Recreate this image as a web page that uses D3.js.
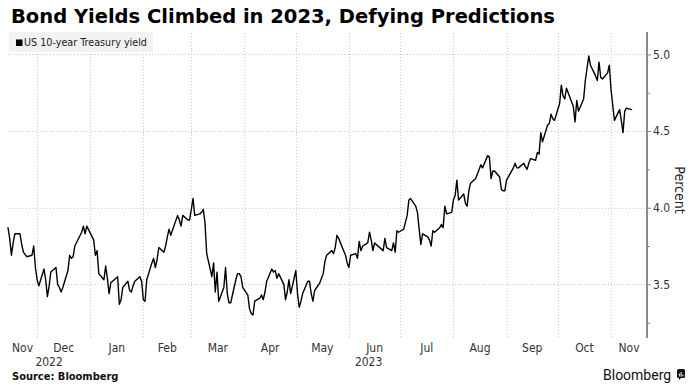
<!DOCTYPE html>
<html><head><meta charset="utf-8">
<script src="https://cdn.jsdelivr.net/npm/d3@7"></script>
<style>
html,body{margin:0;padding:0;background:#fff;}
svg{display:block;}
text{font-family:"DejaVu Sans Condensed","DejaVu Sans",sans-serif;font-stretch:condensed;}
</style></head><body>
<svg id="chart" width="694" height="392"></svg>
<script>
const titleText = "Bond Yields Climbed in 2023, Defying Predictions";
const seriesName = "US 10-year Treasury yield";
const axisTitle = "Percent";
const sourceText = "Source: Bloomberg";
const brandText = "Bloomberg";

const dates = [
 "2022-11-14","2022-11-15","2022-11-16","2022-11-17","2022-11-18","2022-11-21","2022-11-22","2022-11-23","2022-11-25","2022-11-28","2022-11-29","2022-11-30",
 "2022-12-01","2022-12-02","2022-12-05","2022-12-06","2022-12-07","2022-12-08","2022-12-09","2022-12-12","2022-12-13","2022-12-14","2022-12-15","2022-12-16","2022-12-19","2022-12-20","2022-12-21","2022-12-22","2022-12-23","2022-12-27","2022-12-28","2022-12-29","2022-12-30",
 "2023-01-03","2023-01-04","2023-01-05","2023-01-06","2023-01-09","2023-01-10","2023-01-11","2023-01-12","2023-01-13","2023-01-17","2023-01-18","2023-01-19","2023-01-20","2023-01-23","2023-01-24","2023-01-25","2023-01-26","2023-01-27","2023-01-30","2023-01-31",
 "2023-02-01","2023-02-02","2023-02-03","2023-02-06","2023-02-07","2023-02-08","2023-02-09","2023-02-10","2023-02-13","2023-02-14","2023-02-15","2023-02-16","2023-02-17","2023-02-21","2023-02-22","2023-02-23","2023-02-24","2023-02-27","2023-02-28",
 "2023-03-01","2023-03-02","2023-03-03","2023-03-06","2023-03-07","2023-03-08","2023-03-09","2023-03-10","2023-03-13","2023-03-14","2023-03-15","2023-03-16","2023-03-17","2023-03-20","2023-03-21","2023-03-22","2023-03-23","2023-03-24","2023-03-27","2023-03-28","2023-03-29","2023-03-30","2023-03-31",
 "2023-04-03","2023-04-04","2023-04-05","2023-04-06","2023-04-07","2023-04-10","2023-04-11","2023-04-12","2023-04-13","2023-04-14","2023-04-17","2023-04-18","2023-04-19","2023-04-20","2023-04-21","2023-04-24","2023-04-25","2023-04-26","2023-04-27","2023-04-28",
 "2023-05-01","2023-05-02","2023-05-03","2023-05-04","2023-05-05","2023-05-08","2023-05-09","2023-05-10","2023-05-11","2023-05-12","2023-05-15","2023-05-16","2023-05-17","2023-05-18","2023-05-19","2023-05-22","2023-05-23","2023-05-24","2023-05-25","2023-05-26","2023-05-30","2023-05-31",
 "2023-06-01","2023-06-02","2023-06-05","2023-06-06","2023-06-07","2023-06-08","2023-06-09","2023-06-12","2023-06-13","2023-06-14","2023-06-15","2023-06-16","2023-06-20","2023-06-21","2023-06-22","2023-06-23","2023-06-26","2023-06-27","2023-06-28","2023-06-29","2023-06-30",
 "2023-07-03","2023-07-05","2023-07-06","2023-07-07","2023-07-10","2023-07-11","2023-07-12","2023-07-13","2023-07-14","2023-07-17","2023-07-18","2023-07-19","2023-07-20","2023-07-21","2023-07-24","2023-07-25","2023-07-26","2023-07-27","2023-07-28","2023-07-31",
 "2023-08-01","2023-08-02","2023-08-03","2023-08-04","2023-08-07","2023-08-08","2023-08-09","2023-08-10","2023-08-11","2023-08-14","2023-08-15","2023-08-16","2023-08-17","2023-08-18","2023-08-21","2023-08-22","2023-08-23","2023-08-24","2023-08-25","2023-08-28","2023-08-29","2023-08-30","2023-08-31",
 "2023-09-01","2023-09-05","2023-09-06","2023-09-07","2023-09-08","2023-09-11","2023-09-12","2023-09-13","2023-09-14","2023-09-15","2023-09-18","2023-09-19","2023-09-20","2023-09-21","2023-09-22","2023-09-25","2023-09-26","2023-09-27","2023-09-28","2023-09-29",
 "2023-10-02","2023-10-03","2023-10-04","2023-10-05","2023-10-06","2023-10-10","2023-10-11","2023-10-12","2023-10-13","2023-10-16","2023-10-17","2023-10-18","2023-10-19","2023-10-20","2023-10-23","2023-10-24","2023-10-25","2023-10-26","2023-10-27","2023-10-30","2023-10-31",
 "2023-11-01","2023-11-02","2023-11-03","2023-11-06","2023-11-07","2023-11-08","2023-11-09","2023-11-10","2023-11-13"
];
const yields = [
 3.87,3.80,3.69,3.77,3.83,3.83,3.76,3.71,3.68,3.69,3.75,3.61,
 3.53,3.49,3.60,3.53,3.42,3.49,3.58,3.61,3.50,3.48,3.45,3.48,3.59,3.69,3.67,3.68,3.75,3.84,3.88,3.83,3.88,
 3.79,3.69,3.72,3.57,3.53,3.62,3.54,3.44,3.51,3.55,3.37,3.40,3.48,3.52,3.46,3.45,3.49,3.52,3.55,3.52,
 3.40,3.39,3.53,3.64,3.67,3.61,3.66,3.74,3.71,3.75,3.81,3.86,3.82,3.95,3.92,3.88,3.95,3.92,3.92,
 3.99,4.06,3.95,3.96,3.97,3.99,3.90,3.70,3.55,3.64,3.45,3.58,3.39,3.48,3.61,3.44,3.38,3.38,3.53,3.57,3.57,3.55,3.48,
 3.43,3.34,3.31,3.30,3.39,3.41,3.43,3.40,3.45,3.52,3.60,3.58,3.59,3.54,3.57,3.50,3.40,3.45,3.53,3.44,
 3.59,3.44,3.35,3.39,3.44,3.52,3.52,3.44,3.39,3.46,3.51,3.54,3.57,3.65,3.69,3.72,3.70,3.74,3.82,3.80,3.69,3.64,
 3.61,3.69,3.70,3.67,3.78,3.72,3.75,3.77,3.84,3.79,3.72,3.77,3.73,3.72,3.80,3.74,3.72,3.77,3.71,3.85,3.84,
 3.86,3.95,4.05,4.06,4.01,3.97,3.86,3.76,3.83,3.81,3.79,3.75,3.85,3.84,3.87,3.89,3.87,4.01,3.96,3.97,
 4.05,4.08,4.18,4.05,4.09,4.03,4.01,4.11,4.16,4.19,4.22,4.25,4.28,4.26,4.34,4.33,4.19,4.24,4.24,4.20,4.12,4.11,4.11,
 4.18,4.26,4.29,4.26,4.26,4.29,4.27,4.25,4.29,4.32,4.31,4.36,4.35,4.49,4.43,4.54,4.55,4.61,4.58,4.57,
 4.68,4.80,4.73,4.71,4.78,4.66,4.56,4.70,4.63,4.71,4.83,4.91,4.99,4.93,4.86,4.83,4.95,4.85,4.84,4.88,4.93,
 4.77,4.67,4.57,4.64,4.57,4.49,4.63,4.65,4.64
];
const yTicks = [3.25,3.5,3.75,4.0,4.25,4.5,4.75,5.0];
const yLabelTicks = [3.5,4.0,4.5,5.0];
const xDomain = ["2022-11-14","2023-11-22"];
const yDomain = [3.15,5.14];

const parse = d3.timeParse("%Y-%m-%d");
const data = dates.map((d,i)=>({date:parse(d), v:yields[i]}));

const svg = d3.select("#chart");
const L = 8, R = 647, T = 33, B = 338;

const x = d3.scaleTime().domain(xDomain.map(parse)).range([L,R]);
const y = d3.scaleLinear().domain(yDomain).range([B,T]);

function fit(sel, w){
  const n = sel.node();
  const len = n.getComputedTextLength();
  if (Math.abs(len-w) > 1.5) sel.attr("textLength", w).attr("lengthAdjust","spacingAndGlyphs");
}

// Title
const t = svg.append("text").attr("x",11).attr("y",23)
  .attr("font-size",19).attr("font-weight","bold").attr("fill","#000").text(titleText);
fit(t, 544);

// gridlines
const grid = svg.append("g");
const monthStarts = d3.timeMonth.range(d3.timeMonth.ceil(x.domain()[0]), x.domain()[1]);
grid.selectAll("line.v").data(monthStarts).join("line").attr("class","v")
  .attr("x1",d=>Math.round(x(d))+0.5).attr("x2",d=>Math.round(x(d))+0.5)
  .attr("y1",T).attr("y2",B)
  .attr("stroke","#c8c8c8").attr("stroke-width",1).attr("stroke-dasharray","1,2");
grid.selectAll("line.h").data(yLabelTicks).join("line").attr("class","h")
  .attr("x1",L).attr("x2",R)
  .attr("y1",d=>Math.round(y(d))+0.5).attr("y2",d=>Math.round(y(d))+0.5)
  .attr("stroke","#c8c8c8").attr("stroke-width",1).attr("stroke-dasharray","1,2");

// legend
svg.append("rect").attr("x",9).attr("y",32).attr("width",144).attr("height",20)
  .attr("fill","#f1f1f1").attr("fill-opacity",0.92);
svg.append("rect").attr("x",16).attr("y",39.5).attr("width",6.5).attr("height",6.5).attr("fill","#000");
const lg = svg.append("text").attr("x",24).attr("y",46).attr("font-size",10.5).attr("fill","#222").text(seriesName);
fit(lg, 123);

// line
const line = d3.line().x(d=>x(d.date)).y(d=>y(d.v));
svg.append("path").datum(data).attr("d",line)
  .attr("fill","none").attr("stroke","#000").attr("stroke-width",1.4)
  .attr("stroke-linejoin","round").attr("stroke-linecap","round");

// right axis
const ax = svg.append("g").attr("transform",`translate(${R},0)`)
  .call(d3.axisRight(y).tickValues(yTicks).tickSize(4).tickPadding(2)
    .tickFormat(d=>yLabelTicks.includes(d)?d3.format(".1f")(d):""));
ax.select(".domain").remove();
ax.selectAll(".tick line").attr("stroke","#888").attr("stroke-width",1);
ax.selectAll(".tick").filter(d=>!yLabelTicks.includes(d)).select("line").attr("x2",3);
ax.selectAll(".tick text").attr("font-size",12).attr("fill","#333")
  .style("font-family",'"DejaVu Sans Condensed","DejaVu Sans",sans-serif');
svg.append("line").attr("x1",R).attr("x2",R).attr("y1",T-1).attr("y2",B)
  .attr("stroke","#8c8c8c").attr("stroke-width",2);

svg.append("text").attr("transform","translate(675,190) rotate(90)")
  .attr("text-anchor","middle").attr("font-size",14).attr("fill","#222").text(axisTitle);

// month labels centered on visible span
const d0 = x.domain()[0], d1 = x.domain()[1];
const months = d3.timeMonth.range(d3.timeMonth.floor(d0), d1);
const fmtM = d3.timeFormat("%b");
svg.append("g").selectAll("text").data(months).join("text")
  .attr("x", d=>{ const s = d<d0?d0:d; const e0 = d3.timeMonth.offset(d,1); const e = e0>d1?d1:e0; return (x(s)+x(e))/2; })
  .attr("y",352).attr("text-anchor","middle").attr("font-size",12).attr("fill","#333")
  .text(d=>fmtM(d));
const years = d3.timeYear.range(d3.timeYear.floor(d0), d1);
svg.append("g").selectAll("text").data(years).join("text")
  .attr("x", d=>{ const s = d<d0?d0:d; const e0 = d3.timeYear.offset(d,1); const e = e0>d1?d1:e0; return (x(s)+x(e))/2; })
  .attr("y",366).attr("text-anchor","middle").attr("font-size",12).attr("fill","#333")
  .text(d=>d3.timeFormat("%Y")(d));

// source
const src = svg.append("text").attr("x",12).attr("y",380).attr("font-size",11)
  .attr("font-weight","bold").attr("fill","#111").text(sourceText);
fit(src, 105);

// brand
const br = svg.append("text").attr("x",603).attr("y",380).attr("font-size",14)
  .attr("fill","#111").style("font-family","Roboto, 'Noto Sans', sans-serif").style("font-stretch","normal").text(brandText);
fit(br, 67);
const ic = svg.append("g").attr("transform","translate(677,369)");
ic.append("rect").attr("x",0).attr("y",0).attr("width",8).attr("height",9).attr("rx",1.5).attr("fill","#111");
ic.append("path").attr("d","M2,9 L2,11 L4,9 Z").attr("fill","#111");
[[1.8,4.5,1],[3.6,3,1],[5.4,5.5,1]].forEach(([bx,by,bw])=>{
  ic.append("rect").attr("x",bx).attr("y",by).attr("width",bw).attr("height",7.5-by).attr("fill","#fff");
});
</script>
</body></html>
